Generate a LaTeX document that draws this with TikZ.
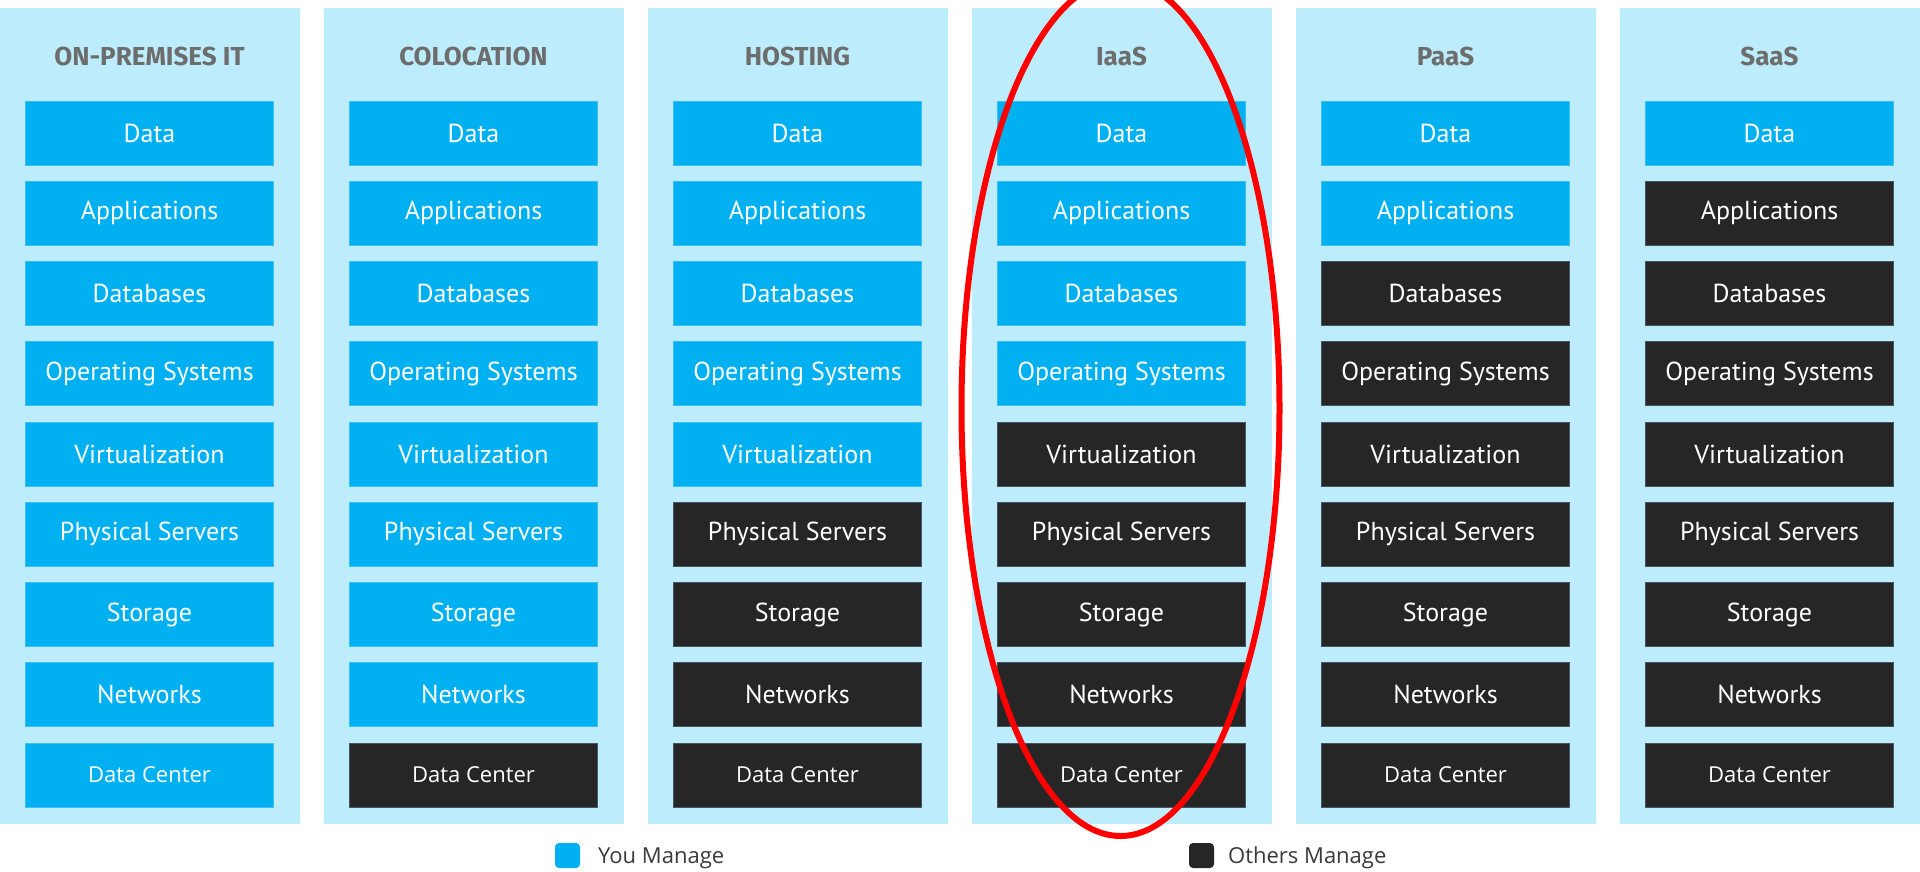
\documentclass[tikz,border=0pt]{standalone}
\usepackage{fontspec}
\setmainfont{PT Sans}
\newfontfamily\dcfont{Open Sans}
\newfontfamily\titlefont{Fira Sans}
\definecolor{panelc}{HTML}{BDEDFD}
\definecolor{youc}{HTML}{00B0F0}
\definecolor{othc}{HTML}{262626}
\definecolor{othedge}{HTML}{46555F}
\definecolor{youedge}{HTML}{3CC0F2}
\definecolor{titlec}{HTML}{6D6D6D}
\definecolor{legc}{HTML}{3A3A3A}
\definecolor{ringc}{HTML}{FF0000}
\begin{document}
\begin{tikzpicture}[x=1pt,y=-1pt,
  panel/.style={fill=panelc, minimum width=300pt, minimum height=816pt, inner sep=0pt},
  coltitle/.style={text=titlec, font=\titlefont\fontsize{26}{30}\selectfont\bfseries, inner sep=0pt},
  layer/.style={minimum width=248pt, minimum height=64pt, inner sep=0pt, text=white, line width=0.8pt, font=\fontsize{26}{30}\selectfont},
  you/.style={layer, fill=youc, draw=youedge},
  oth/.style={layer, fill=othc, draw=othedge},
  dclabel/.style={font=\dcfont\fontsize{22}{26}\selectfont},
  legsq/.style={rounded corners=4pt, minimum width=25pt, minimum height=25pt, inner sep=0pt},
  legtext/.style={text=legc, font=\dcfont\fontsize{22}{26}\selectfont, inner sep=0pt, anchor=west},
  ring/.style={draw=ringc, line width=6pt}
]
\useasboundingbox (0,0) rectangle (1920,871);
\clip (0,0) rectangle (1920,871);
\fill[white] (0,0) rectangle (1920,871);
\foreach \c/\name/\nb in {0/ON-PREMISES IT/9, 1/COLOCATION/8, 2/HOSTING/5, 3/IaaS/4, 4/PaaS/2, 5/SaaS/1} {
  \pgfmathsetmacro{\cx}{324*\c+149.5}
  \node[panel] (p\c) at (\cx,416) {};
  \node[coltitle] (t\c) at (\cx,56) {\name};
  \foreach \r/\lab in {0/Data,1/Applications,2/Databases,3/Operating Systems,4/Virtualization,5/Physical Servers,6/Storage,7/Networks} {
    \pgfmathsetmacro{\cy}{133+80.25*\r}
    \ifnum\r<\nb
      \node[you] (b\c-\r) at (\cx,\cy) {\lab};
    \else
      \node[oth] (b\c-\r) at (\cx,\cy) {\lab};
    \fi
  }
  \ifnum\nb>8
    \node[you,dclabel] (b\c-8) at (\cx,775) {Data Center};
  \else
    \node[oth,dclabel] (b\c-8) at (\cx,775) {Data Center};
  \fi
}
\draw[ring] (1120.5,408) ellipse [x radius=159, y radius=428];
\node[legsq, fill=youc] (ly) at (567.5,855.5) {};
\node[legtext] (lyt) at (598,858) {You Manage};
\node[legsq, fill=othc] (lo) at (1201.5,855.5) {};
\node[legtext] (lot) at (1228,858) {Others Manage};
\end{tikzpicture}
\end{document}
